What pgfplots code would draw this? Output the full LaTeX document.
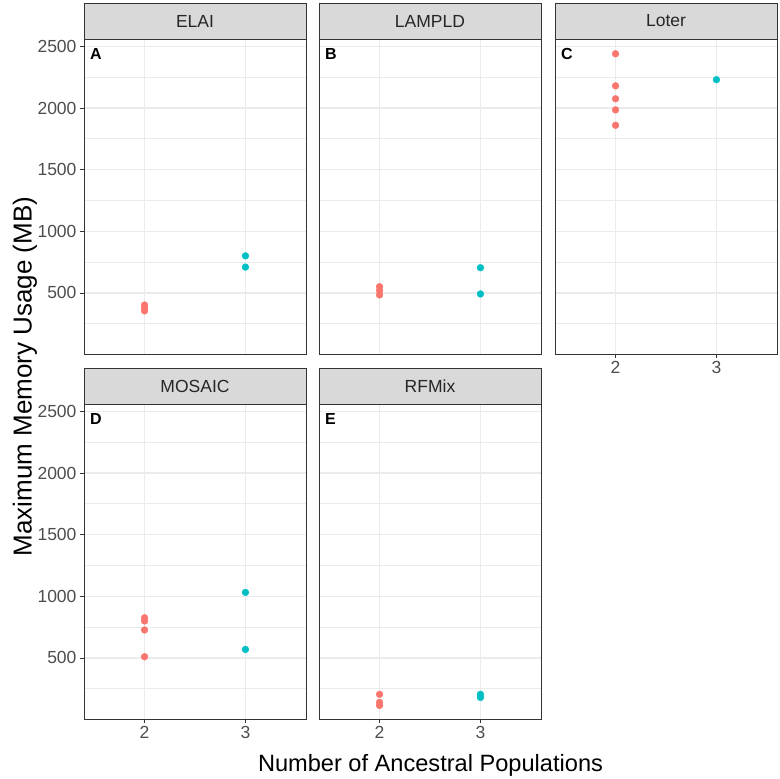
\documentclass[border=0pt]{standalone}
\usepackage{pgfplots}
\pgfplotsset{compat=1.18}
\usepackage{fontspec}
\setmainfont{Liberation Sans}
\definecolor{redp}{HTML}{F8766D}
\definecolor{cyanp}{HTML}{00BFC4}
\definecolor{gridc}{HTML}{EBEBEB}
\definecolor{framec}{HTML}{333333}
\definecolor{ticklab}{HTML}{4D4D4D}
\definecolor{stripc}{HTML}{D9D9D9}
\pgfplotsset{
  facet/.style={
    scale only axis, width=222pt, height=315pt, anchor=south west,
    xmin=1.4, xmax=3.6, ymin=5, ymax=2560,
    xtick={2,3}, ytick={500,1000,1500,2000,2500},
    minor ytick={250,750,1250,1750,2250},
    grid=both,
    major grid style={gridc, line width=1.5pt},
    minor grid style={gridc, line width=0.75pt},
    axis line style={framec, line width=0.9pt},
    tick align=outside, major tick length=4pt, minor tick length=0pt,
    tick style={framec, line width=0.9pt},
    xtick pos=bottom, ytick pos=left,
    ticklabel style={font=\fontsize{17.5}{17.5}\selectfont, text=ticklab},
    /pgf/number format/assume math mode=true,
    /pgf/number format/1000 sep={},
  },
  noxlab/.style={xticklabels={}, xtick style={draw=none}},
  noylab/.style={yticklabels={}, ytick style={draw=none}},
  rp/.style={only marks, mark=*, mark size=3.4pt, color=redp, fill=redp, mark options={solid, draw=redp, fill=redp}},
  cp/.style={only marks, mark=*, mark size=3.4pt, color=cyanp, fill=cyanp, mark options={solid, draw=cyanp, fill=cyanp}},
}
\newcommand{\plab}[1]{\node[anchor=north west, inner sep=0pt, font=\bfseries\fontsize{16}{16}\selectfont] at (rel axis cs:0.027,0.972) {#1};}
\newcommand{\strip}[3]{\draw[framec, fill=stripc, line width=0.9pt] (#1,#2) rectangle ({#1+222},{#2+36});
  \node[font=\fontsize{17.5}{17.5}\selectfont, text=black!85] at ({#1+111},{#2+18}) {#3};}
\begin{document}
\begin{tikzpicture}[x=1pt,y=1pt]
\useasboundingbox (0,0) rectangle (780,779);
% Panel A: ELAI
\begin{axis}[facet, noxlab, at={(84pt,425pt)}]
\addplot[rp] coordinates {(2,402) (2,378) (2,355)};
\addplot[cp] coordinates {(3,801) (3,710)};
\plab{A}
\end{axis}
% Panel B: LAMPLD
\begin{axis}[facet, noxlab, noylab, at={(319pt,425pt)}]
\addplot[rp] coordinates {(2,551) (2,520) (2,484)};
\addplot[cp] coordinates {(3,705) (3,492)};
\plab{B}
\end{axis}
% Panel C: Loter
\begin{axis}[facet, noylab, at={(555pt,425pt)}]
\addplot[rp] coordinates {(2,2440) (2,2180) (2,2075) (2,1985) (2,1860)};
\addplot[cp] coordinates {(3,2230)};
\plab{C}
\end{axis}
% Panel D: MOSAIC
\begin{axis}[facet, at={(84pt,60pt)}]
\addplot[rp] coordinates {(2,826) (2,800) (2,727) (2,510)};
\addplot[cp] coordinates {(3,1032) (3,569)};
\plab{D}
\end{axis}
% Panel E: RFMix
\begin{axis}[facet, noylab, at={(319pt,60pt)}]
\addplot[rp] coordinates {(2,205) (2,140) (2,115)};
\addplot[cp] coordinates {(3,205) (3,180)};
\plab{E}
\end{axis}
\strip{84}{740}{ELAI}
\strip{319}{740}{LAMPLD}
\strip{555}{740}{Loter}
\strip{84}{375}{MOSAIC}
\strip{319}{375}{RFMix}
\node[anchor=base, font=\fontsize{23.6}{23.6}\selectfont] at (430.5,7.3) {Number of Ancestral Populations};
\node[anchor=base, rotate=90, font=\fontsize{26}{26}\selectfont] at (31.5,402.5) {Maximum Memory Usage (MB)};
\end{tikzpicture}
\end{document}
